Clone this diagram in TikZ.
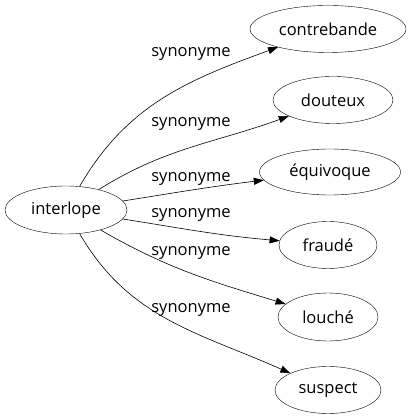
\documentclass[tikz,border=0pt]{standalone}
\usepackage{fontspec}
\setmainfont{Open Sans}
\usetikzlibrary{arrows.meta,shapes.geometric}

\tikzset{
  word/.style={draw, ellipse, inner sep=0pt, font=\fontsize{16.5}{18}\selectfont},
  syn/.style={font=\fontsize{16.5}{18}\selectfont, inner sep=0pt},
  edge/.style={-{Triangle[length=10pt,width=7pt]}, line width=0.6pt}
}

\begin{document}
\begin{tikzpicture}[x=1pt,y=1pt]
  \useasboundingbox (0,0) rectangle (412,419);
  % nodes
  \node[word, minimum width=122, minimum height=48] (interlope) at (66,209) {interlope};
  \node[word, minimum width=156, minimum height=47] (contrebande) at (328,390) {contrebande};
  \node[word, minimum width=120, minimum height=47] (douteux) at (333,319) {douteux};
  \node[word, minimum width=141, minimum height=46] (equivoque) at (330,247) {équivoque};
  \node[word, minimum width=98, minimum height=47] (fraude) at (328,174) {fraudé};
  \node[word, minimum width=100, minimum height=48] (louche) at (328,102) {louché};
  \node[word, minimum width=106, minimum height=47] (suspect) at (328,29) {suspect};
  % labels
  \node[syn] (l1) at (191,365) {synonyme};
  \node[syn] (l2) at (191,295) {synonyme};
  \node[syn] (l3) at (191,240) {synonyme};
  \node[syn] (l4) at (191,204) {synonyme};
  \node[syn] (l5) at (191,166) {synonyme};
  \node[syn] (l6) at (191,109) {synonyme};
  % edges
  \draw[edge] (interlope) to[out=60, in=200] (contrebande);
  \draw[edge] (interlope) to[out=32, in=200] (douteux);
  \draw[edge] (interlope) to[out=9, in=187] (equivoque);
  \draw[edge] (interlope) to[out=-9, in=175] (fraude);
  \draw[edge] (interlope) to[out=-30, in=163] (louche);
  \draw[edge] (interlope) to[out=-60, in=156] (suspect);
\end{tikzpicture}
\end{document}
